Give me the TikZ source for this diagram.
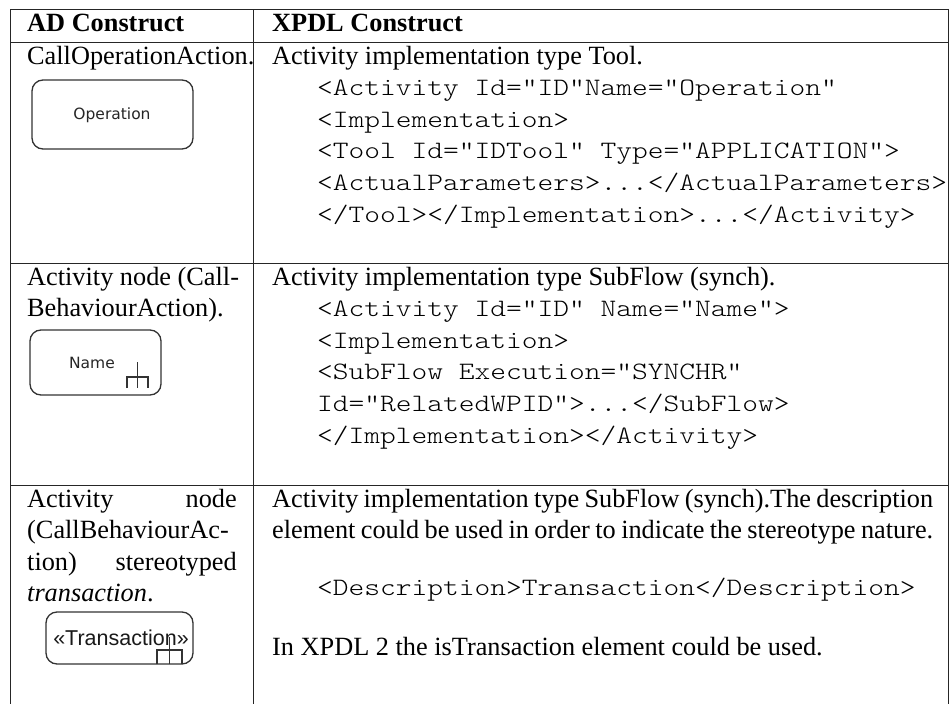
\documentclass[tikz,border=0pt]{standalone}
\usepackage{fontspec}
\setmainfont{Liberation Serif}
\newfontfamily\codefont{lmmonolt10-regular.otf}[FakeStretch=1.2]
\newfontfamily\boxfont{DejaVu Sans}
\newfontfamily\stfont{Liberation Sans}
\tikzset{
 txt/.style={anchor=base west, inner sep=0pt, font=\fontsize{26.3}{31.6}\selectfont},
 txtr/.style={anchor=base east, inner sep=0pt, font=\fontsize{26.3}{31.6}\selectfont},
 code/.style={anchor=base west, inner sep=0pt, font=\codefont\fontsize{25}{31.6}\selectfont},
 hdr/.style={anchor=base west, inner sep=0pt, font=\fontsize{26.3}{31.6}\selectfont\bfseries},
 grid/.style={line width=1pt, draw=black!85},
 act/.style={draw=black!80, line width=1.3pt, rounded corners=11pt, inner sep=0pt},
 rake/.style={draw=black!80, line width=1.2pt},
 boxtxt/.style={inner sep=0pt, text=black!85, font=\boxfont\fontsize{15.5}{18}\selectfont},
 sttxt/.style={anchor=base, inner sep=0pt, text=black!90, font=\stfont\fontsize{21.5}{24}\selectfont},
}
\begin{document}
\begin{tikzpicture}[x=1pt,y=-1pt]
\useasboundingbox[fill=white] (0,0) rectangle (951,704);
% grid
\draw[grid] (10,9) -- (948,9);
\draw[grid] (10,42) -- (948,42);
\draw[grid] (10,263) -- (948,263);
\draw[grid] (10,485) -- (948,485);
\draw[grid] (10,9) -- (10,704);
\draw[grid] (253,9) -- (253,704);
\draw[grid] (948,9) -- (948,704);
% header
\node[hdr] (h1) at (27,31) {AD Construct};
\node[hdr] (h2) at (272,31) {XPDL Construct};
% row 1
\node[txt] (l1) at (27,64) {CallOperationAction.};
\node[act, minimum width=161pt, minimum height=69pt] (opbox) at (112.5,114.5) {};
\node[boxtxt] (optxt) at (112,115) {Operation};
\node[txt] (r1t) at (272,64) {Activity implementation type Tool.};
\node[code] (r1c1) at (317,95.6) {<Activity Id="ID"Name="Operation"};
\node[code] (r1c2) at (317,127.2) {<Implementation>};
\node[code] (r1c3) at (317,158.8) {<Tool Id="IDTool" Type="APPLICATION">};
\node[code] (r1c4) at (317,190.4) {<ActualParameters>...</ActualParameters>};
\node[code] (r1c5) at (317,222) {</Tool></Implementation>...</Activity>};
% row 2
\node[txt] (l2a) at (27,285) {Activity node (Call-};
\node[txt] (l2b) at (27,316.6) {BehaviourAction).};
\node[act, minimum width=131pt, minimum height=65pt] (namebox) at (95.5,362.5) {};
\node[boxtxt] (nametxt) at (92,363) {Name};
\draw[rake] (137.5,362) -- (137.5,388) (127,388) -- (127,377) -- (148,377) -- (148,388);
\node[txt] (r2t) at (272,285) {Activity implementation type SubFlow (synch).};
\node[code] (r2c1) at (317,316.6) {<Activity Id="ID" Name="Name">};
\node[code] (r2c2) at (317,348.2) {<Implementation>};
\node[code] (r2c3) at (317,379.8) {<SubFlow Execution="SYNCHR"};
\node[code] (r2c4) at (317,411.4) {Id="RelatedWPID">...</SubFlow>};
\node[code] (r2c5) at (317,443) {</Implementation></Activity>};
% row 3
\node[txt] (l3a) at (27,507) {Activity};
\node[txtr] (l3a2) at (237,507) {node};
\node[txt] (l3b) at (27,538.6) {(CallBehaviourAc-};
\node[txt] (l3c) at (27,570.2) {tion)};
\node[txtr] (l3c2) at (237,570.2) {stereotyped};
\node[txt] (l3d) at (27,601.8) {\itshape transaction\upshape.};
\node[act, minimum width=147pt, minimum height=52pt] (trbox) at (119.5,638) {};
\node[sttxt] (trtxt) at (121,645) {«Transaction»};
\draw[rake] (169.5,637) -- (169.5,664) (157,664) -- (157,650) -- (182,650) -- (182,664);
\node[txt] (r3a) at (272,507) {\makebox[661pt][s]{Activity implementation type SubFlow (synch).The description}};
\node[txt] (r3b) at (272,538.6) {\makebox[661pt][s]{element could be used in order to indicate the stereotype nature.}};
\node[code] (r3c) at (317,595) {<Description>Transaction</Description>};
\node[txt] (r3d) at (272,655) {In XPDL 2 the isTransaction element could be used.};
\end{tikzpicture}
\end{document}
